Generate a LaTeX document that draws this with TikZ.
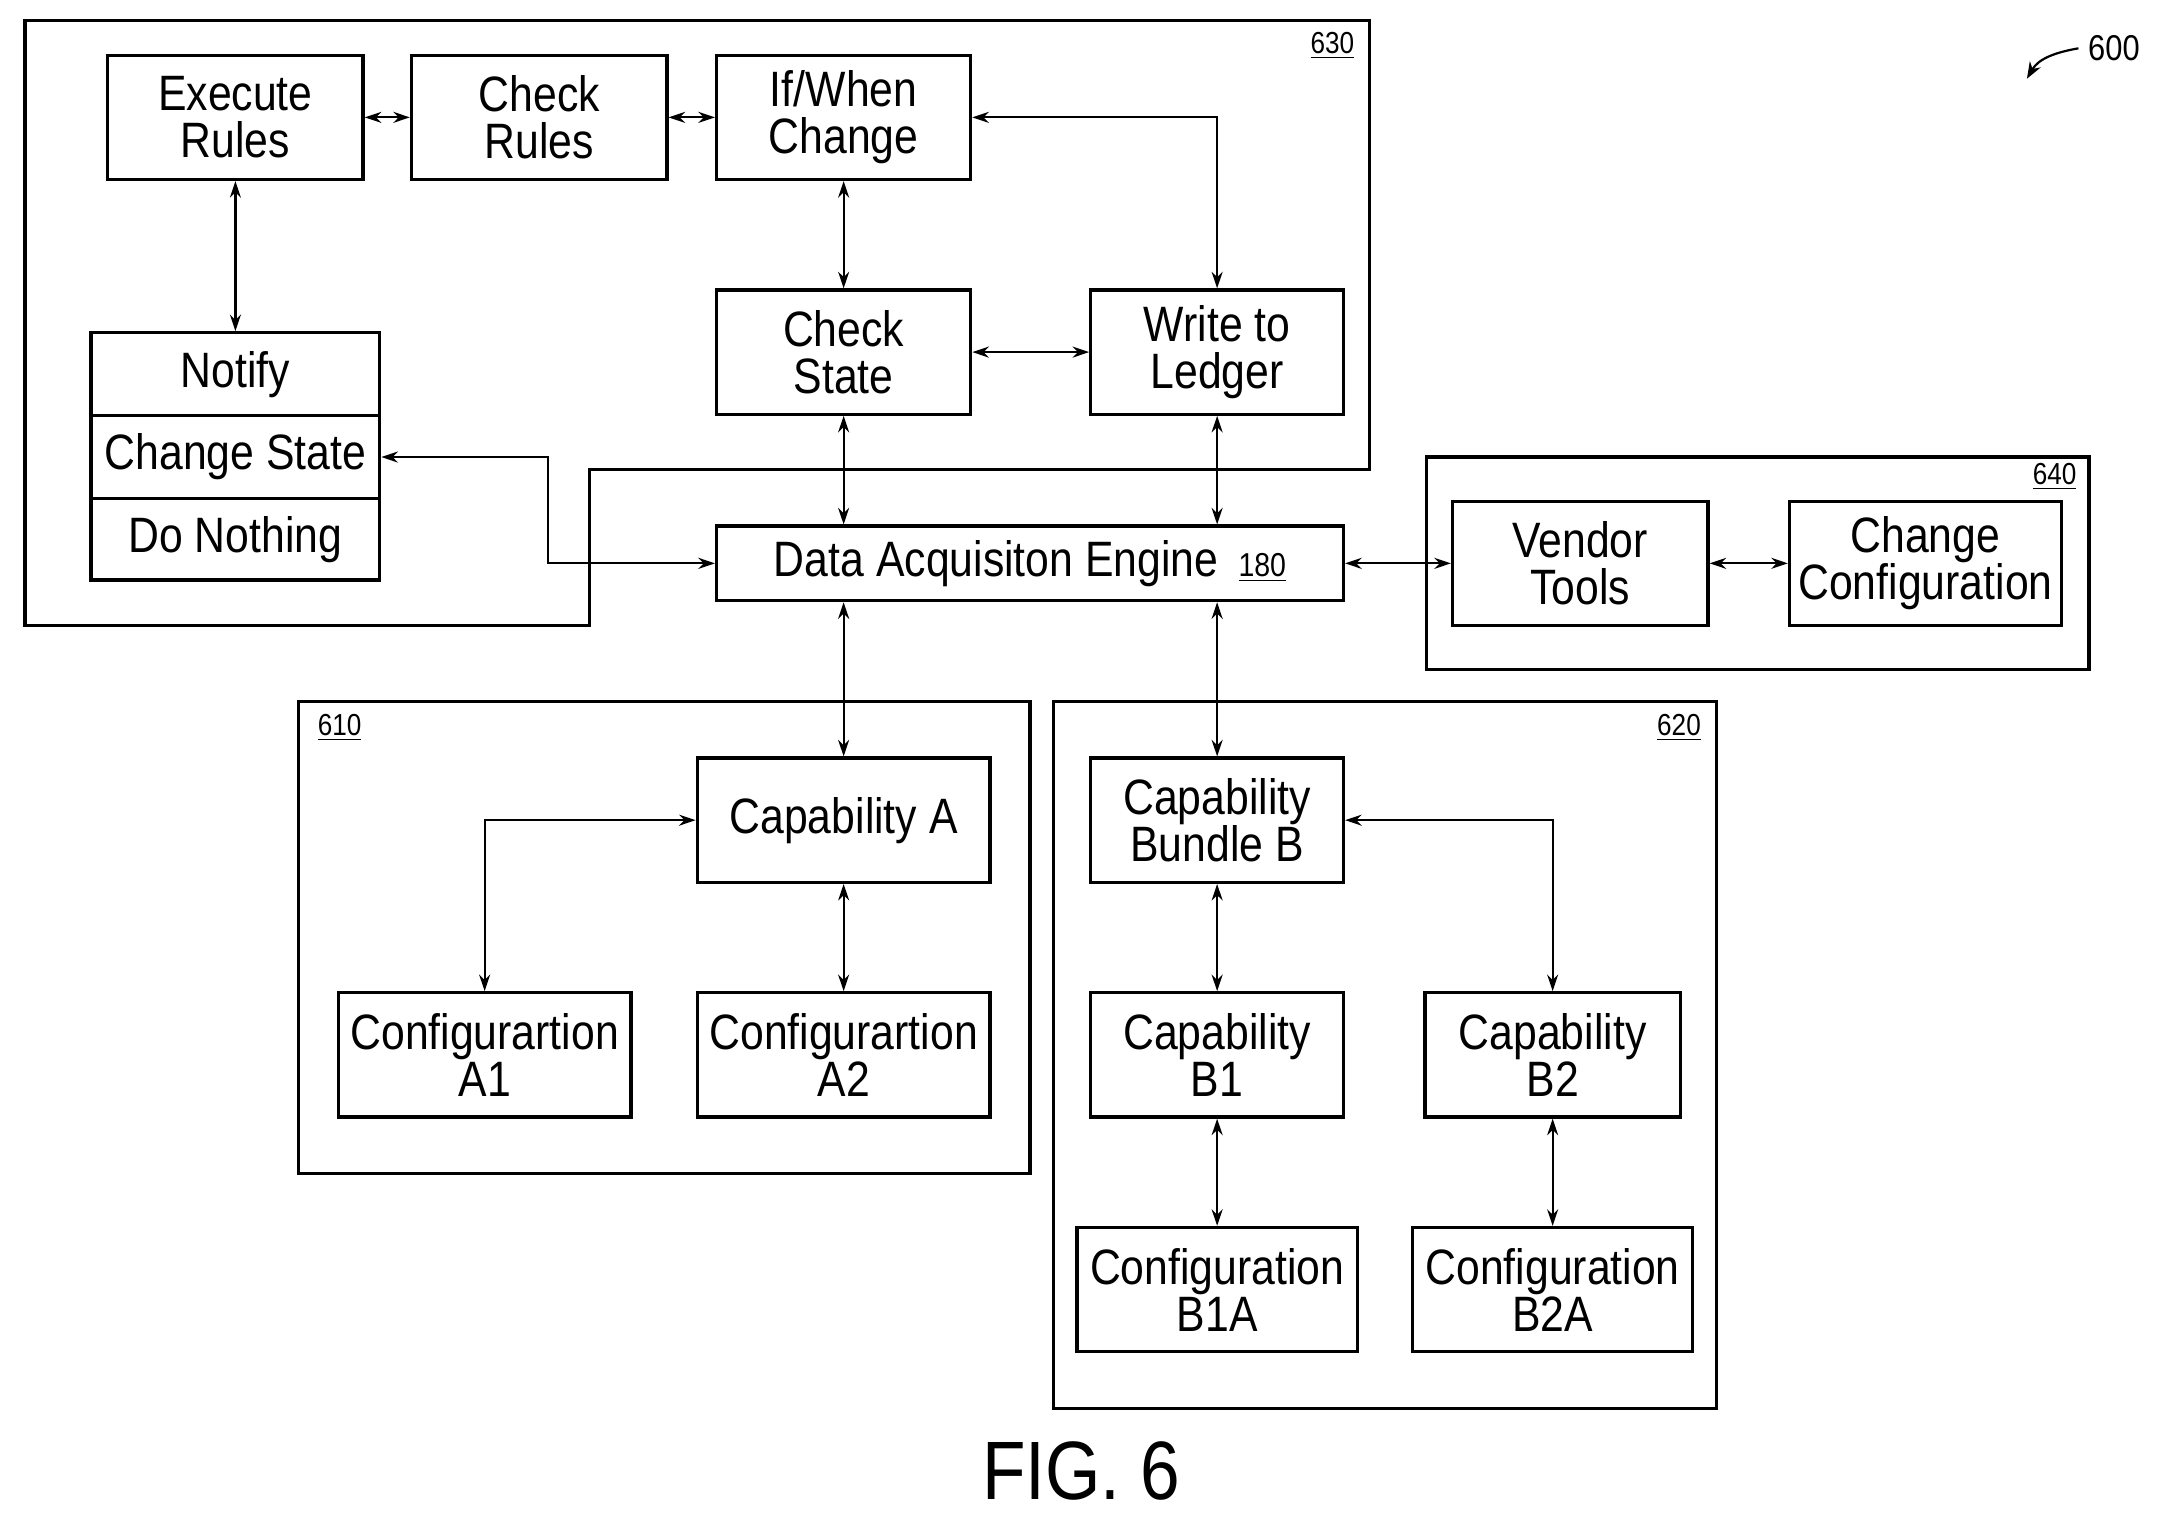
\documentclass[tikz,border=0pt]{standalone}
\usepackage{fontspec}
\setmainfont{Liberation Sans}[FakeStretch=0.86]
\usetikzlibrary{arrows.meta}
\begin{document}
\begin{tikzpicture}[x=0.5pt,y=-0.5pt,
  box/.style={draw,line width=1.2pt,inner sep=0pt,align=center,font=\fontsize{18}{17}\selectfont},
  grp/.style={draw,line width=1.2pt},
  ar/.style={{Stealth[length=6pt,width=4pt]}-{Stealth[length=6pt,width=4pt]},line width=0.8pt},
  lab/.style={font=\fontsize{11}{11}\selectfont}]
\useasboundingbox (0,0) rectangle (1568,1098);
\draw[grp] (18,15) -- (992,15) -- (992,340) -- (427,340) -- (427,453) -- (18,453) -- cycle;
\node[lab] at (965,33) {\underline{630}};
\newcommand\bx[4]{\node[box,minimum width=#3*0.5pt,minimum height=90*0.5pt] (#1) at #2 {#4};}
\bx{ex}{(170.5,85)}{185}{Execute\\Rules}
\bx{cr}{(390.5,85)}{185}{Check\\Rules}
\bx{iw}{(611,85)}{184}{If/When\\Change}
\bx{cs}{(611,255)}{184}{Check\\State}
\bx{wl}{(881.5,255)}{183}{Write to\\Ledger}
\node[box,minimum width=104.5pt,minimum height=30pt] (no) at (170.5,271) {Notify};
\node[box,minimum width=104.5pt,minimum height=30pt] (ch) at (170.5,331) {Change State};
\node[box,minimum width=104.5pt,minimum height=29.5pt] (dn) at (170.5,390.5) {Do Nothing};
\node[box,minimum width=227pt,minimum height=27pt] (dae) at (746,408) {Data Acquisiton Engine \,{\fontsize{12}{12}\selectfont\underline{180}}};
\draw[grp] (1033,331) rectangle (1513,485);
\node[lab] at (1488,345) {\underline{640}};
\bx{vt}{(1144.5,408)}{185}{Vendor\\Tools}
\bx{cc}{(1394.5,408)}{197}{Change\\Configuration}
\draw[grp] (216,508) rectangle (746,850);
\node[lab] at (246,527) {\underline{610}};
\bx{ca}{(611,594)}{212}{Capability A}
\bx{a1}{(351,764)}{212}{Configurartion\\A1}
\bx{a2}{(611,764)}{212}{Configurartion\\A2}
\draw[grp] (763,508) rectangle (1243,1020);
\node[lab] at (1216,527) {\underline{620}};
\bx{bb}{(881.5,594)}{183}{Capability\\Bundle B}
\bx{b1}{(881.5,764)}{183}{Capability\\B1}
\bx{b2}{(1124.5,764)}{185}{Capability\\B2}
\bx{b1a}{(881.5,934)}{203}{Configuration\\B1A}
\bx{b2a}{(1124.5,934)}{203}{Configuration\\B2A}
\node[font=\fontsize{30}{30}\selectfont] at (783,1065) {FIG. 6};
\node[lab,font=\fontsize{13}{13}\selectfont] (n600) at (1531,35) {600};
\draw[-{Stealth[length=6pt]},line width=0.8pt] (n600.west) to[out=190,in=60] (1468,57);
\draw[ar] (ex) -- (cr);
\draw[ar] (cr) -- (iw);
\draw[ar] (ex) -- (no);
\draw[ar] (iw) -- (cs);
\draw[ar] (iw.east) -| (wl.north);
\draw[ar] (cs) -- (wl);
\draw[ar] (cs) -- (dae.north -| cs);
\draw[ar] (wl) -- (dae.north -| wl);
\draw[ar] (ch.east) -- (397,331) |- (dae.west);
\draw[ar] (dae) -- (vt);
\draw[ar] (vt) -- (cc);
\draw[ar] (dae.south -| ca) -- (ca);
\draw[ar] (dae.south -| bb) -- (bb);
\draw[ar] (ca.west) -| (a1.north);
\draw[ar] (ca) -- (a2);
\draw[ar] (bb) -- (b1);
\draw[ar] (bb.east) -| (b2.north);
\draw[ar] (b1) -- (b1a);
\draw[ar] (b2) -- (b2a);
\end{tikzpicture}
\end{document}
